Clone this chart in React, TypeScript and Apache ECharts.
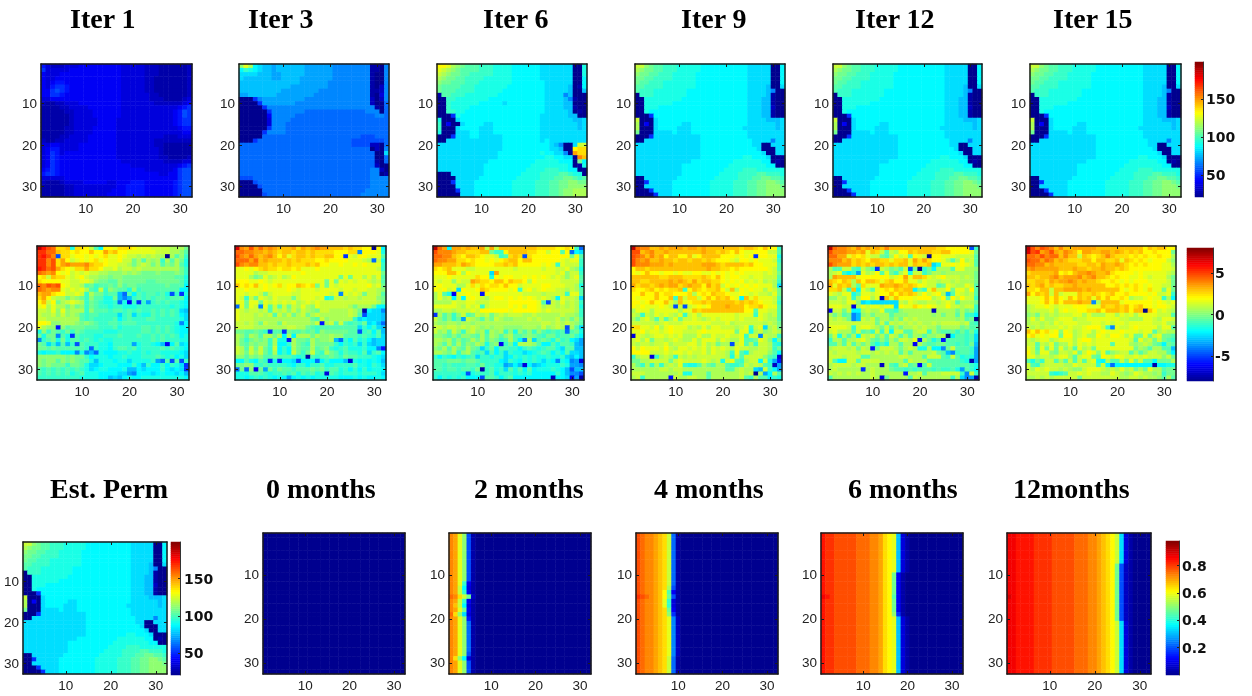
import React, { useEffect, useRef } from "react";
import * as echarts from "echarts";

// Every cell is one character: its position (0..35) on the scale of that panel's colour bar.
const LEVELS = "0123456789abcdefghijklmnopqrstuvwxyz";
const cats = ["1","2","3","4","5","6","7","8","9","10","11","12","13","14","15","16","17","18","19","20","21","22","23","24","25","26","27","28","29","30","31","32"];

const permIter1 = [
"53222333 44444444 43333322 21111112","63333344 44444444 43333322 21111112","43334444 44444444 43333322 21111112","43344444 44444444 43333322 11111112",
"43455444 44444444 43333322 11111112","43566544 44444444 43333322 11111112","44676544 44444444 43333322 11111112","44665444 44444444 43333332 21111112",
"33444444 44444444 43333332 22111123","21122333 44444444 43333333 22222234","11112233 33444444 43333333 33333456","11111223 33344444 43333333 33334576",
"11111123 33344444 43333333 33334576","11111123 33334444 33333333 33334566","11111123 33334444 33333333 33334566","11111223 33344444 33333333 33333455",
"11111223 33344444 33333333 33333344","11112233 33444444 33333333 33222333","21122333 33444444 33333333 22222222","33443333 44444444 33333333 22111111",
"34553333 44444444 33333333 32111111","34653444 44444444 33333333 32111111","34654444 44444444 33333333 32211112","34654444 44444444 43333333 33222233",
"34654444 44444444 44433333 33333456","45654444 44444444 44444433 33334677","56654444 44444444 44444444 43344677","33333444 44444444 44444444 44444677",
"21112333 34444433 44455544 44445677","11111223 33333333 44555544 44445677","11111223 33333334 44555544 44445677","11111223 33333344 44555544 44445677",
];
const permIter3 = [
"iljdcbba bbbbbbaa aaaa9999 99991109","dfedcbba bbbbbbaa aaaa9999 99991109","ccccbbba abbbbbaa aaaa9999 99991009","cbbbbbba abbbbaaa aaaa9999 99991009",
"bbbbbbbb bbbbbaaa aaa99999 99991009","bbbbbbbb bbbaaaaa aaa99999 99991029","bbbbbbbb baaaaaaa a9999999 99991129","aabbbbbb aaaaaaaa 99999999 99991039",
"00069aaa aaaaaa99 99999999 99992029","00006aaa aaaa9999 99999999 99992008","00000699 99999999 99999999 99999108","00000069 99999988 88888888 88899908",
"00000049 99998888 88888888 88888998","00000039 99988888 88888888 88888888","00000039 99888888 88888888 88888888","00000069 99888888 88888888 88888888",
"00000699 99888888 88888888 88888888","00000888 88888888 88888888 88777888","00068888 88888888 88888888 77777778","88888888 88888888 88888888 77772208",
"88888888 88888888 88888888 88880209","88888888 88888888 88888888 8888800c","88888888 88888888 88888888 88888008","88888888 88888888 88888888 88888108",
"88888888 88888888 88888888 88888200","88888888 88888888 88888888 88889920","88888888 88888888 88888888 88889901","77788888 88888888 88888888 88889999",
"00078888 88888888 88888888 88889999","00007888 88888888 88888888 88889999","00000888 88888888 88888888 88899999","00000788 88888888 88888888 88999999",
];
const permIter6 = [
"mmljihgg gfffeeee ddddddcc ccccc00e","lkjihggg gfffeeee ddddddcc ccccc00e","kjihhggf ffffeeee ddddddcc ccccc00e","jihhggff ffeeeeee ddddddcc ccccc00d",
"ihhgggff feeeeeee dddddddc ccccc00d","hggggfff eeeeeeed dddddddc ccccb01d","hgggffff eeeeeedd dddddddc ccccb00b","1ggfffee eeeeeddd dddddddc ccc9b000",
"00ffeeee eeeddddd dddddddc cccb9100","00feeeee edddddcd dddddddc cccbb000","00feeeed dddddddd dddddddc cccbb100","00ffeedd dddddddd dddddddc ccccb010",
"0006eddd dddddddd ddddddcc ccccbb00","e000cddd dddddddd ddddddcc cccccbbc","f0400cdd ddccdddd ddddddcc ccccccbc","f000cddd dcccdddd ddddddcc ccccccbc",
"e000cccd dcccdddd ddddddcc cccccccc","0006cccd dcccccdd ddddddcc cccccccc","00cccccc ccccccdd ddddddcd cccccccc","cccccccc ccccccdd ddddddd d cb900ck",
"cccccccc ccccccdd ddddddd d ccb00mn","cccccccc cccccddd dddddde ddcc90pn","cccccccc cccccddd ddddddde eddcc0qo","cccccccc cccdddd ddddddeee eeddd0hd",
"cccccccc ccdddddd ddddeeee eeeed01e","cccccccc ccdddddd dddeeeef ffeedd00","000ccccc ccdddddd ddeeeeff ffggfee0","0000cccc cddddddd deeeeeff fgghhgfg",
"0006cccc dddddddd eeeeefff gghhiihh","0000cccc dddddddd eeeeefff gghhiiii","00006ccc dddddddd eeeeefff gghiijjj","00000ccc dddddddd eeeeefff gghiijjj",
];
const permFinal = [
"kkihggff feeeeedd dddddddd ccccc00d","jihhggff feeeeedd dddddddd ccccc00d","ihhggfff eeeeeddd dddddddd ccccc00d","hhggffff eeeeeddd dddddddd ccccc00d",
"hggfffee eeeeeddd dddddddd ccccc00d","ggffffee eeeeeddd dddddddd ccccb00c","gfffeeee eeeddddd dddddddd ccccb900","0fffeeee eeeddddd dddddddd ccccb100",
"00eeeeee eedddddd dddddddd cccbb100","00eeeeee dddddddd dddddddd cccbb100","00eeeddd dddddddd dddddddd cccbb200","00eddddd dddddddd dddddddd cccbb100",
"0006dddd dddddddd dddddddd cccbb100","k000cddd dddddddd dddddddd ccccbbbc","j040cddd ddccdddd dddddddd ccccccbc","j000cddd dcccdddd dddddddc ccccccbc",
"h000cccc dcccdddd dddddddd cccccccc","0006cccc ccccccdd dddddddd cccccccc","00cccccc ccccccdd dddddddd dcccc9cc","cccccccc ccccccdd dddddddd dcc00ccc",
"cccccccc ccccccdd dddddddd ddc000cc","cccccccc ccccccdd dddddddd dddc00cc","cccccccc ccccccdd ddddddde edddc000","cccccccc ccccdddd dddddeee eeedd010",
"cccccccc ccdddddd ddddeeee eeeedd00","cccccccc ccdddddd dddeeeef ffeeeeee","cccccccc ccdddddd ddeeeeff ffggfffe","00cccccc cddddddd deeeeeff fgghhggf",
"006ccccc dddddddd eeeeefff gghhiihg","00cccccc dddddddd eeeeefff gghhiiih","0006cccc dddddddd eeeeefff gghhiiii","00006ccc dddddddd eeeeefff gghhiiii",
];

const logIter1 = [
"xusrnnoe nnmkgdmm lnnnmlll kkkkjjjh","ttrronnm nmmommpn ommlllll lkkkjjig","tusq7nnl mmlmlmnl lmlkkjkj kjj0jgif","ttqsnpmk lmlmnlml lmkkhjgj ijfjgjhe",
"ttqsnpqp ppqonnml lkkjhjkj hjgihjge","utrspnml nnpnnmkk ljkkjkjj jjjjjjhf","rqpqmlmk lklkkjji iijijihh hihhhihf","mnkonnlk lmkjjiih iihhhhhh hhhhhgge",
"nmmmmllk kllkihhg gihhhhhg ghhhhhge","rqsrsmlk kjghfggh gighhggg ggghgggd","rqpqqlkl kljgfkfi hggeifgg ggggggdd","oppnmmkk lkfjhhfg gb8gdgfg gfge7f6e",
"npmkjjhj ihfiggee hb9bfgfg fggfgggd","mokmhjkl kjfhgfee f8e4f6fa fgfgffed","lmjljjhj hifhgffe ffeeefff ffffefed","kkjlilij jjfigggf ggfgfgff gfgfgfcb",
"kjjkikij igfggfff fcfgcfee gfgfgfdc","kkjjjjjj jgfgffff gdfgfffg gfffffec","mmliijjj ihihgffg gfgggfff fffffe9d","ljii5igh hhgggfff geffffgg fgfgfedd",
"eifhgfhf hgffffee efffffgg fgfgfedd","hehh9ge6 gfffeeff fgfffgff gfgfgfde","9fgheheg gfgfefee ffffffff gfgfffee","hgcfbgbf 7gfffeed ffffaeff edb4dgcd",
"hhghgggg ggf8feed fggfgeff ffgfgfed","edeefddd 9e9b8edd deefeefe ffeeeedc","iiiiiihi hhfdeeed eefeeeff fgfefdec","ihiigihi hggebeee deeceeee fa8g7g7f",
"ihihhhfh hgeccdee edddfdbf ddfdfec6","gfgfgfgf gfecdeed ddebbdcd ddfdcdc6","gfgfgfge fgeeeddd dcca9ddd cdeddcdb","ffffffff feeeeddb cbdeddee eeeeeeed",
];
const logIter3 = [
"wqpsprpq pooopnpo pqppooon onnmm1md","rrqqppop onoonoon onnnnmmm nn9mmmle","sqprpopq omolnoon onnoomm6 lkmmlllg","rrrpropo oonononn nmmnmmmm lllkj8ke",
"sqpqqoon onnonnno nommllml lmlmlllf","llmlmnon nmnnmnll lmllllll llllllkf","lllljkkl llllllml llllllll lllllllh","llljhilj kljkmlll llllllhl hlljljlg",
"mmmllmlk llllllll lllhlhlk lkllkjkg","omnmolml mnlmmonm nhlhlkll llllmklh","llmlllml lllmlkll lkllllkl lkllkkji","llkllkhk llllkkll llllkl9l klkhkkjg",
"lkfkhlkj lkkkhkll lklefkkj kkjkkkih","llhllhlk lklkljkl klkkkkkk kkkkkkjh","8lhlk9lg kgkhkjlj ilkkkkkk jhjjjhdd","lkjkkjkg kjkikikj ihkkjjjj kjh1dcc9",
"lkkkjkjk gkikhjkh jkjjjjjj kjg7cccb","lkkkjjjj jjjjjjjj hgkijjjj jfcdcccb","kkjkjhkj jhkjjjjj ik5jkgkg fgfhcdb8","kkkkjjjj jjjkkjjh gfgggggg ggcfdfcb",
"hhgghgf6 gg6hgghg hfihhhhh gg7fgdgb","jigjigjj hjdjdjjj hjiijiig ggfgfegc","jhfhihif jee5jhhg jhiijb8f dgefdbcc","jhgihiif jddfjhgf jhhhhfdf efcfcbcc",
"kjgkhkhf kdfdjhgg jghifefg eeefdd95","kjhkikhf jdfdkhfh kgfjhgeg ffegcfgd","iigihigg hgggfef1 gfgghgfh ggfffedc","ddgedgf6 e6ddc7dd d8dfdddb 3edededb",
"hhiiffgf fffedffd ffgeefff fgeedfec","8h8i4hah fhggfggg hghfggef dfdfdeed","eeegggfe ffgfgegf gef3gfef ffefffec","eedefefe dedadede deeeeedd dededded",
];
const logIter6 = [
"xrpdppop oopkpkoo oooooonn nnmmnmf8","sqqqpoon nnoohffm oooonnmm kmmgm8dc","rrqqonmo onmllkfg non7nmmm mmmmmhlg","rqqppnnm nmmlmlmn oomoommm mmmlkllf",
"ppooonpo nmmmmnno nommmmml mlflkkkf","nmnolllk klllllll lklllllk llkkljie","mmmoomjm llllcpll llllllll llklikkf","lllmllll lnmmemlm mllmlmlm lklkiklg",
"lkllilkk ponnmoom onnmjmll lllkkkkg","lmllljjl nlnmnnmo mmkllllm mlllkkje","mlmklcml lmonmmmm lmflmklm llkkjkjg","jlge4llm ll5mllll lllkkkkj kkkkfllg",
"jljkdkdl mlkjlmml mlmlmlkl kjdlkkjc","jjjjlkkl lkkkllll mmmmmmlg 7kjljkjf","lllllkjl klfkllll mlmkmmlj kkjkjkje","jjkkjkkk lkmmmmmm lmmmmmlk lkkkkkjf",
"6jgifikg hkjkhjkj kkkjjkjj jjjkjjif","kigifhak jigjhkji ijjjkjkj jjkijhjg","jiijjijj ijjjjjjj jjjjjjjk kjkjkjig","kkjkkjkj kjijijji iiijjjik ijkj7jgc",
"kijgkifj kijfjijf ieigifig fgfg8ghe","iihgigii hgjgjigi jgghihgf hhfgghfd","jjijgigh jhjgihfg jgd9jcgh gehfgdca","jigjgjgi hjiehi4f hdjjjigd dgeggfba",
"ihjgjhgj hgcfhdgg ffdfgfef ggecggbb","jjihjfij gfgcgdfc feecdefg fdfdgccb","fdfedfef gcffeffc dfefefee feefcbdb","ggghhhgh hgffffdc fedfefec ed9ed9a3",
"ggfgfffg gfhffeea bdb3dbcd eeefeaa9","ggfggfgg fh1fgefc gegdgdee efedb7bb","ffffffe7 efffgdff fefefddd ddfdb997","fdfefefd dd7ggfdf gddddddd d2ddc4a1",
];
const logIter9 = [
"xrqqoopo pppoppop ooooooon oonmommf","ssopqoop ooooooop oononmom llmmmkkg","srqoqopm oommolmo ooommmlm lm6mmlle","sqpqoopo onoonoon onmmmlkm mlmlllkf",
"sqqqpppo poooooop pponoooo nommlllg","moonoooo oooooooo poonnmnm mmmmmlkg","mlmommlm mlmllmml lmlmlmlm llllklkh","oooooonn ooonnnno nmomlmml lkllkkkg",
"oonnoooo poponpno onnmlmlm klkljkjf","pnoonopo ppnopoom pnokmlml mlmllljc","nmmnomnm nnofmonm nnomkojm lmlljlkh","mmommomn nmmmnjmn monnmllm lklkkjlh",
"mlmmmomm ofoknnkm omonomld olnlllkg","mmlmommo ljolmnno nooooono nonmllkf","mlmlllml k7k7klml mooopooo mnnomllg","jllljlll lljllono oooooooo mmgllkkg",
"kjfkjlkl kjlfkljl llllllkl llflkjkg","jhkljgkg jlhkklkj klklllkl kkklkjjg","kkkkkjkl kkklllll lkkkljkk kkkkjkjh","nnllkmjl mllljkjl jllkkkjk lfklcjkh",
"llmkllkl mllkkklm llllllhl lejkijkj","3lkjkllk lkljjjlj jlkklkkl fkk9kjjf","kljlhkkj klkjjljl lljlkjjl gghlkidh","kjkkjkkl jkkklljl jkhjj7kl gjfkkjfe",
"mkmlllkm kjllklkl jlklkjlk kjjkkjfh","mmmmkkkl kllklkkl jlkkjflg ejkkkigd","fjkk3fjk jfkjkjkk kkkkjekg kkkkigf3","hhjjkkkk hklkkkkl kjkeklgf jkkdkea5",
"jhfjfjfj kjlfeegj hgjjgffg kjkjgf2a","jjjjjjkk jkkjjjjj jjjjggjk jjcbkfda","kkkjjjjj jjkeejjj gjjjjjjk jk0jadjg","jkfjjjjj 5kjjkkjj gjjjjjjk gfjggdfe",
];
const logIter12 = [
"xrqqpoqo popoqooo ooooooon nmmmmm7f","sqqqppop lonkgkjm monooonn oommmmlh","rrpplnmn lkkhgjmk lgmlk0mm lllkkkkg","qqqopnon moonnlnn olpnpnmm ljgjmjkg",
"sqpppnon onoonono olonnoce llmlmlkg","jggkkgfk ig6kjhig k7h0fhdj jjglljji","jklfdfal jkmglhfj lekkfhjj ijjjjjjh","jpoooolm mmmmmklm ploonlkl mkkkjkjh",
"onmonjom oonlnomm olljlkkj kkjkjjjh","plonojgn lllpoopo nonmlkkg hlkjjlkg","nnokfodl jglmnmon oodhflok kmhlljmg","lkjllegl lklmmomo nonkmklm jbglkjkg",
"iikjlfjm mjl2olom mmlmmmjk mgmkmkkf","kkkjllic dcccccck jlkjjkkj klkgjjjh","lllkk3jl kllkllcm llnmlmlk kmkkjkkf","4kkhkddj kjjlggfi jjjjjj2j jjjhjhif",
"jhjgh9bi jhjjjgii ijjjjjij hjjgjffd","kjkjh9bk jkhjjhjh kjkjjjjj jjjijgh0","kkkkkkkk kkhkgkjk jkjkjjkj kkkkjkgf","llllkfkl lkjhkgjh jjkjkjjh jjjjhigg",
"kljjjgkg hfkfkdkk ggjkkfjh gghfhfhe","hkejgjdk jkhjgkjg jgjigiij j0dggfgc","fjjgjjkl jhgigjhk kjl5jheg 5ggggfgc","ggjgkgjh jgegejjg jj4jhggh hggfgfhb",
"jkkkjkhk j5hkkkjh jkjeejdd 9hkgggfa","kjkkkkjk kjkjkjkg jgjjjjkh gb9fggfa","kkkjkkkg gjjjjjjk kjjjgkkk gfkgefea","kgddkkgk kkkjjjjj gkjjjggg ggggfe1a",
"jkkkkjkk jjj2jgfj kgh4gkgg ggggggfe","jkjjjjj6 jkjjjhgg fgfgggfg ffgeagfd","kjkjkjkj jkjjjjjj 5jjkgjjj kkkkf9kf","gjjjjjjj jkj3hjjj jgkjjjjj jjfjc9a1",
];
const logIter15 = [
"xsqsrqoq oopppppo oooooooo omonoomm","wstpqspo qpomppoo ppoponon ommnmmmh","rrqsqrro qookonmn oqonnnmn mnmmnmmj","srrprqop onnnoomo onnolonm nmlmmmki",
"rrqqopoo ooonnoon pooponmn mnmmmllj","pqpppppo oopoonoo poononmm mmmmmllk","nooooopm nmoppqpo opnmmmml mlllllkj","oonoopqo pppqopqo onmnmmll mlkllljh",
"nnoonpop pqpopoon mmnmlmlm mmllllkh","onopnonn oopooooo ommnmnmn mlmllkkh","nnmookoo ppppopoo oooomlmn mlnllhlh","pmonokok lllonnon mnommnmm mmlmkklf",
"lllmomom lomonolo mommnmjk klmllfjd","lllmomom ooopoo9j oooolmmm mmmlmlkl","jkllmlkl llmmmlll onnonomn ommlmmlk","jkkkkljl mllmmnno mooonomo o0omklkj",
"ijhkjkjk kklljljj jlljlklj llllkkkg","jljljjkl lljkklll llllkkjj jllkjllk","jkkjkjlk lllkkkll klkllkll lllkkljj","kjkjkkkl klkklmmm kf9lkklm lllljllg",
"omomnlmi mljklljl mlllmlll kllgjkjj","mnlmlmmh mmjkljjm lkmmljlh hlhklhhg","kjklljkl lljlmmkl llllllkg ljkhkhgf","kkgkjlhj jljlklkl llglllji jkjhgdhg",
"lkglhlhl ikgljkhl lllllllh jigjjggb","mkhllihk kjlhkmli lgijkkgj gikkjjgd","lljkkjkl ljgkllhg mlkmlkkl klkkkikh","gehfkkgj gkgkgkle djggkhlh kggdhhhj",
"kgfjkkkk jjlkkkkf kd8ddddd ddd1ddee","kjlklkkj kjiiklll kjkjljkh jhljjghh","kkkkkfef gkklklkk jjlkjijl kjjijfhh","jjkjkjkk kkkhkkkk kkkkjjkk jkjjigjg",
];

const fill = (row: string) => Array.from({ length: 32 }, () => row);
const sat0 = fill("00000000 00000000 00000000 00000000");
const s2 = "qpli7100 00000000 00000000 00000000";
const sat2 = [s2,s2,s2,s2,s2,s2,s2,s2,s2,s2,s2,"qplf4100 00000000 00000000 00000000","qpkd3100 00000000 00000000 00000000","qpkf4100 00000000 00000000 00000000","rqnkh200 00000000 00000000 00000000","qpkf4100 00000000 00000000 00000000","qokd3100 00000000 00000000 00000000","qplh4100 00000000 00000000 00000000","rnic3100 00000000 00000000 00000000","qpli5100 00000000 00000000 00000000","qpli8100 00000000 00000000 00000000","qpli8100 00000000 00000000 00000000","qpli8100 00000000 00000000 00000000","qpli8100 00000000 00000000 00000000","qpli8100 00000000 00000000 00000000","qpli8100 00000000 00000000 00000000","qpli8100 00000000 00000000 00000000","qpli7100 00000000 00000000 00000000","qnid3100 00000000 00000000 00000000",s2,s2,s2];
const s4 = "srqqponk 81000000 00000000 00000000";
const s4b = "srqqponl 92000000 00000000 00000000";
const sat4 = [s4,s4,s4,s4,s4,s4,s4,s4,s4,s4,s4,s4,"srqqponj 71000000 00000000 00000000","srqqpomg 41000000 00000000 00000000","tsrqpomh 71000000 00000000 00000000","srqqpolf 31000000 00000000 00000000","srqqpolf 31000000 00000000 00000000","srqqponh 41000000 00000000 00000000","srqqponi 61000000 00000000 00000000",s4b,s4b,s4b,s4b,s4b,s4b,s4b,s4b,s4b,s4,s4,s4,s4];
const s6 = "uttsssss rrrqqpnm lb310000 00000000";
const s6b = "uttsssss rrrqqpnm h4100000 00000000";
const sat6 = [s6,s6,s6,s6,s6,s6,s6,s6,s6,s6b,s6b,s6b,s6b,s6b,"vutsssss rrrqqpnm g4100000 00000000",s6b,s6b,s6b,"uttsssss rrrqqpnm i6100000 00000000",s6,s6,s6,s6,s6,s6,s6,s6,s6,s6,s6,s6,s6];
const s12 = "vvuuuutt ttsssssr rrqqponm kc310000";
const s12b = "vvuuuutt ttsssssr rrqqponm h7210000";
const sat12 = [s12,s12,s12,s12,s12,s12,s12,s12b,s12b,s12b,s12b,s12b,s12b,s12b,"wvuuuutt ttsssssr rrqqponm h7210000",s12b,s12b,s12b,s12b,s12b,s12,s12,s12,s12,s12,s12,s12,s12,s12,s12,s12,s12];

const jet = ["#00008f","#0000ff","#0080ff","#00ffff","#80ff80","#ffff00","#ff8000","#ff0000","#800000"];
const scales = [
  { id: "perm", min: 21, max: 199, ticks: [50, 100, 150] },
  { id: "log", min: -8, max: 8, ticks: [-5, 0, 5] },
  { id: "sat", min: 0, max: 0.98, ticks: [0.2, 0.4, 0.6, 0.8] },
];
const panels = [
  { rows: permIter1, scale: 0, box: [41, 64, 192, 197] }, { rows: permIter3, scale: 0, box: [239, 64, 389, 197] },
  { rows: permIter6, scale: 0, box: [437, 64, 587, 197] }, { rows: permFinal, scale: 0, box: [635, 64, 785, 197] },
  { rows: permFinal, scale: 0, box: [833, 64, 982, 197] }, { rows: permFinal, scale: 0, box: [1030, 64, 1181, 197] },
  { rows: logIter1, scale: 1, box: [37, 246, 189, 380] }, { rows: logIter3, scale: 1, box: [235, 246, 386, 380] },
  { rows: logIter6, scale: 1, box: [433, 246, 584, 380] }, { rows: logIter9, scale: 1, box: [631, 246, 782, 380] },
  { rows: logIter12, scale: 1, box: [828, 246, 979, 380] }, { rows: logIter15, scale: 1, box: [1026, 246, 1176, 380] },
  { rows: permFinal, scale: 0, box: [23, 542, 167, 674] }, { rows: sat0, scale: 2, box: [263, 533, 405, 674] },
  { rows: sat2, scale: 2, box: [449, 533, 591, 674] }, { rows: sat4, scale: 2, box: [636, 533, 778, 674] },
  { rows: sat6, scale: 2, box: [821, 533, 963, 674] }, { rows: sat12, scale: 2, box: [1007, 533, 1151, 674] },
];
const bars = [
  { scale: 0, box: [1195, 62, 1203, 197], margin: 3 }, { scale: 1, box: [1187, 248, 1213, 381], margin: 2 },
  { scale: 0, box: [171, 542, 180, 675], margin: 4 }, { scale: 2, box: [1166, 541, 1179, 675], margin: 3 },
];
const titles = [
  ["Iter 1", 70, 4], ["Iter 3", 248, 4], ["Iter 6", 483, 4], ["Iter 9", 681, 4], ["Iter 12", 855, 4], ["Iter 15", 1053, 4],
  ["Est. Perm", 50, 474], ["0 months", 266, 474], ["2 months", 474, 474], ["4 months", 654, 474], ["6 months", 848, 474], ["12months", 1013, 474],
] as const;

const decode = (rows: string[], s: { min: number; max: number }) => {
  const out: number[][] = [];
  rows.forEach((r, y) => {
    const t = r.replace(/ /g, "");
    for (let x = 0; x < 32; x++) {
      const l = Math.max(0, LEVELS.indexOf(t[x] ?? t[t.length - 1]));
      out.push([x, y, s.min + (l / 35) * (s.max - s.min)]);
    }
  });
  return out;
};

function buildOption() {
  const grid: any[] = [], xAxis: any[] = [], yAxis: any[] = [], series: any[] = [];
  const bySeries: number[][] = [[], [], []];
  const line = { show: true, lineStyle: { color: "#1a1a1a", width: 1.5 } };
  const every10 = (i: number) => (i + 1) % 10 === 0;
  const tick = (on: boolean) => ({ show: on, inside: true, length: 3, alignWithLabel: true, interval: every10, lineStyle: { color: "#1a1a1a", width: 1 } });
  const label = { interval: every10, color: "#222", fontFamily: "Liberation Sans", fontSize: 13.5 };

  panels.forEach((p) => {
    const g = grid.length;
    const [l, t, r, b] = p.box;
    grid.push({ left: l, top: t, width: r - l, height: b - t });
    const xi = xAxis.length, yi = yAxis.length;
    xAxis.push({ type: "category", data: cats, gridIndex: g, position: "bottom", z: 5, axisLine: line, axisTick: tick(true), axisLabel: { ...label, margin: 4 }, splitLine: { show: false } });
    xAxis.push({ type: "category", data: cats, gridIndex: g, position: "top", z: 5, axisLine: line, axisTick: tick(true), axisLabel: { show: false }, splitLine: { show: false } });
    yAxis.push({ type: "category", data: cats, gridIndex: g, inverse: true, position: "left", z: 5, axisLine: line, axisTick: tick(true), axisLabel: { ...label, margin: 4 }, splitLine: { show: false } });
    yAxis.push({ type: "category", data: cats, gridIndex: g, inverse: true, position: "right", z: 5, axisLine: line, axisTick: tick(true), axisLabel: { show: false }, splitLine: { show: false } });
    bySeries[p.scale].push(series.length);
    series.push({ type: "heatmap", xAxisIndex: xi, yAxisIndex: yi, data: decode(p.rows, scales[p.scale]), progressive: 0, itemStyle: { borderWidth: 0 }, emphasis: { disabled: true } });
  });

  bars.forEach((c) => {
    const s = scales[c.scale];
    const g = grid.length;
    const [l, t, r, b] = c.box;
    grid.push({ left: l, top: t, width: r - l, height: b - t });
    const xi = xAxis.length, yi = yAxis.length;
    const steps = Array.from({ length: 64 }, (_, i) => i);
    xAxis.push({ type: "category", data: ["c"], gridIndex: g, show: false });
    yAxis.push({ type: "category", data: steps.map(String), gridIndex: g, show: false });
    yAxis.push({
      type: "value", gridIndex: g, min: s.min, max: s.max, position: "right", z: 5,
      axisLine: { show: true, lineStyle: { color: "#333", width: 1 } },
      axisTick: { show: true, inside: true, length: 2, customValues: s.ticks, lineStyle: { color: "#222" } },
      axisLabel: { show: true, customValues: s.ticks, margin: c.margin, color: "#111", fontFamily: "DejaVu Sans", fontWeight: "bold", fontSize: 14 },
      splitLine: { show: false },
    });
    bySeries[c.scale].push(series.length);
    series.push({ type: "heatmap", xAxisIndex: xi, yAxisIndex: yi, progressive: 0, emphasis: { disabled: true },
      data: steps.map((i) => [0, i, s.min + ((i + 0.5) / 64) * (s.max - s.min)]) });
  });

  return {
    animation: false,
    backgroundColor: "#ffffff",
    title: titles.map(([text, left, top]) => ({ text, left, top, padding: 0, textStyle: { fontFamily: "Liberation Serif", fontWeight: "bold", fontSize: 28, color: "#000" } })),
    tooltip: { show: false },
    grid, xAxis, yAxis, series,
    visualMap: scales.map((s, i) => ({ type: "continuous", show: false, min: s.min, max: s.max, dimension: 2, seriesIndex: bySeries[i], inRange: { color: jet }, calculable: false })),
  };
}

export default function App() {
  const ref = useRef<HTMLDivElement>(null);
  useEffect(() => {
    const chart = echarts.init(ref.current!, undefined, { renderer: "svg" });
    chart.setOption(buildOption() as any);
    return () => chart.dispose();
  }, []);
  // The reference is a resampled raster: a slight blur gives its soft cell edges.
  return (
    <div style={{ position: "fixed", left: 0, top: 0, width: 1252, height: 696, filter: "blur(0.7px)" }}>
      <div ref={ref} style={{ width: 1252, height: 696 }} />
    </div>
  );
}
